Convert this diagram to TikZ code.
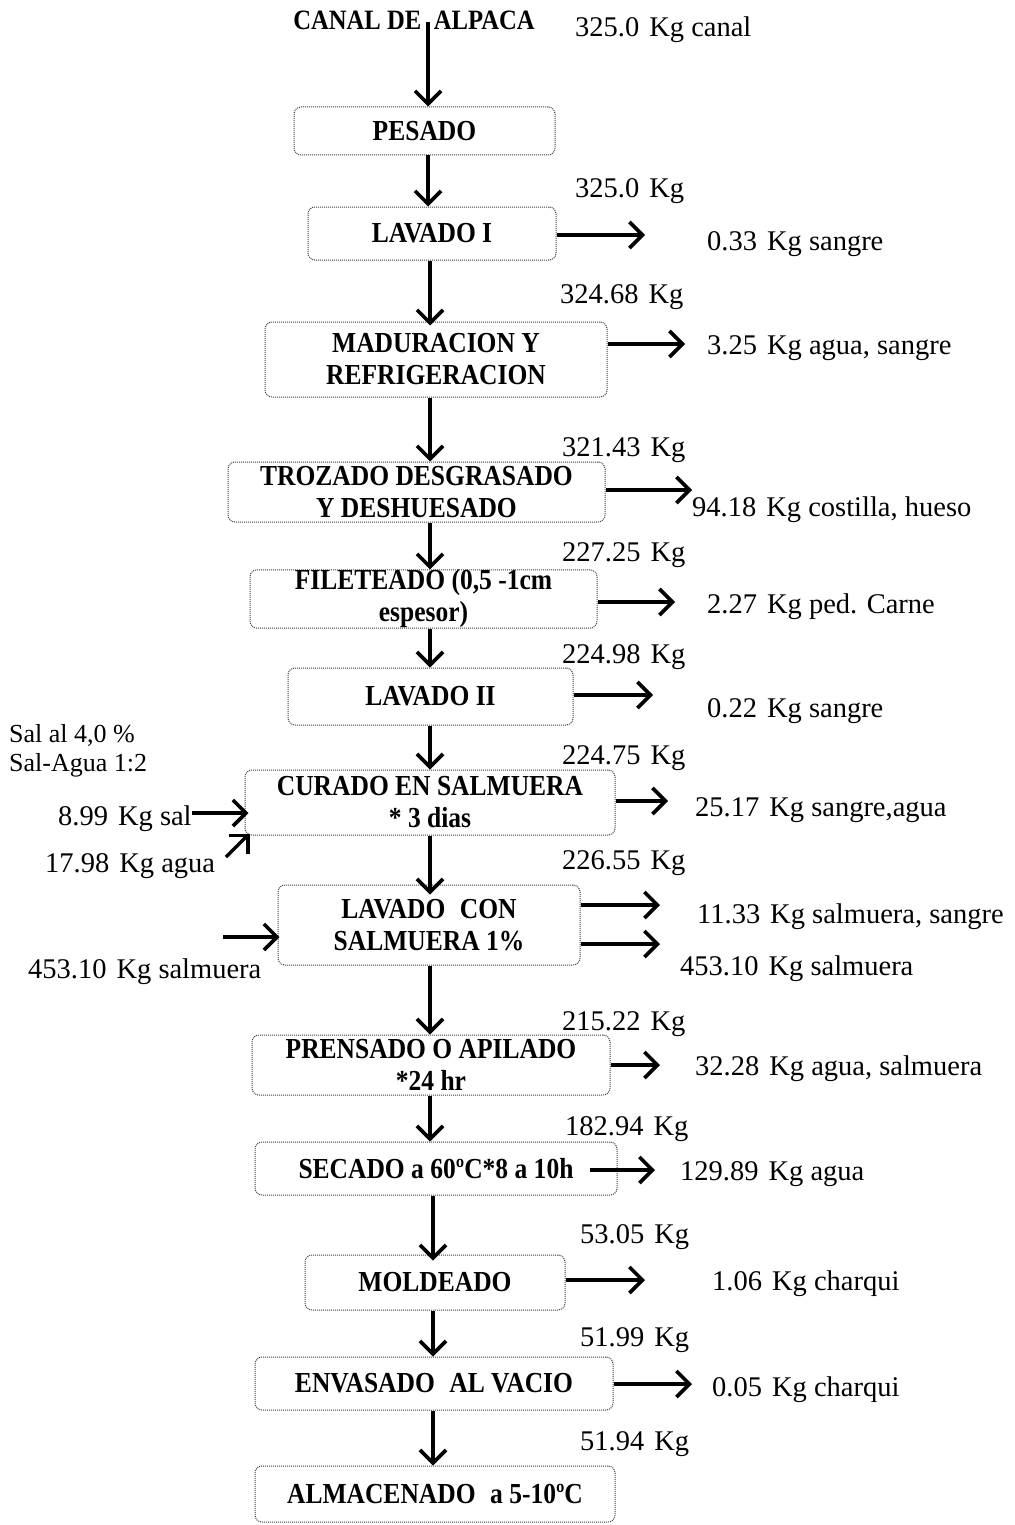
\documentclass[tikz,border=0pt]{standalone}
\usepackage{fontspec}
\setmainfont{Liberation Serif}
\newfontfamily\boxfont{Liberation Serif}[FakeStretch=0.88]
\usetikzlibrary{arrows.meta,calc}
\newcommand\sepkg{\hspace{0.35em}}
\begin{document}
\begin{tikzpicture}[x=1pt,y=-1pt,
  proc/.style={draw=black!75, densely dotted, line width=1pt, rounded corners=7pt,
    inner sep=0pt, align=center, font=\boxfont\fontsize{29}{32}\selectfont\bfseries},
  ttl/.style={inner sep=0pt, font=\boxfont\fontsize{28}{32}\selectfont\bfseries},
  lab/.style={anchor=base west, inner sep=0pt, font=\fontsize{28.5}{30}\selectfont},
  note/.style={anchor=base west, inner sep=0pt, font=\fontsize{26}{30}\selectfont},
  flow/.style={line width=3.4pt, -{Straight Barb[length=13pt,width=26pt,line width=3.6pt]}},
]
\useasboundingbox (0,0) rectangle (1014,1525);
\clip (0,0) rectangle (1014,1525);

% column coordinates
\coordinate (ca) at (428,0);
\coordinate (cb) at (430,0);
\coordinate (cc) at (433,0);

% title
\node[ttl] (canal) at (414,20) {CANAL DE\hspace{0.45em}ALPACA};

% process boxes
\node[proc, minimum width=261pt, minimum height=48pt] (pes) at (424.5,131) {PESADO};
\node[proc, minimum width=248pt, minimum height=53pt] (lav1) at (432,233.5) {LAVADO I};
\node[proc, minimum width=342pt, minimum height=75pt] (mad) at (436,359.5) {MADURACION Y\\REFRIGERACION};
\node[proc, minimum width=377pt, minimum height=60pt] (tro) at (416.5,492) {TROZADO DESGRASADO\\Y DESHUESADO};
\node[proc, minimum width=347pt, minimum height=58pt] (fil) at (423.5,599) {FILETEADO (0,5 -1cm\\espesor)};
\node[proc, minimum width=285pt, minimum height=57pt] (lav2) at (430.5,696.5) {LAVADO II};
\node[proc, minimum width=370pt, minimum height=65pt] (cur) at (430,802.5) {CURADO EN SALMUERA\\* 3 dias};
\node[proc, minimum width=302pt, minimum height=80pt] (lcs) at (429,925) {LAVADO\enspace CON\\SALMUERA 1\%};
\node[proc, minimum width=358pt, minimum height=60pt] (pre) at (431,1065) {PRENSADO O APILADO\\*24 hr};
\node[proc, minimum width=362pt, minimum height=53pt] (sec) at (436,1168.5) {SECADO a 60ºC*8 a 10h};
\node[proc, minimum width=260pt, minimum height=55pt] (mol) at (435,1282.5) {MOLDEADO};
\node[proc, minimum width=358pt, minimum height=53pt] (env) at (434,1383.5) {ENVASADO\enspace AL VACIO};
\node[proc, minimum width=360pt, minimum height=56pt] (alm) at (435,1494) {ALMACENADO\enspace a 5-10ºC};

% mass labels on the main line
\node[lab] (m0) at (575,37) {325.0\sepkg Kg canal};
\node[lab] (m1) at (575,197) {325.0\sepkg Kg};
\node[lab] (m2) at (560,303) {324.68\sepkg Kg};
\node[lab] (m3) at (562,456) {321.43\sepkg Kg};
\node[lab] (m4) at (562,561) {227.25\sepkg Kg};
\node[lab] (m5) at (562,663) {224.98\sepkg Kg};
\node[lab] (m6) at (562,764) {224.75\sepkg Kg};
\node[lab] (m7) at (562,869) {226.55\sepkg Kg};
\node[lab] (m8) at (562,1030) {215.22\sepkg Kg};
\node[lab] (m9) at (565,1135) {182.94\sepkg Kg};
\node[lab] (m10) at (580,1243) {53.05\sepkg Kg};
\node[lab] (m11) at (580,1346) {51.99\sepkg Kg};
\node[lab] (m12) at (580,1450) {51.94\sepkg Kg};

% output labels
\node[lab] (o1) at (707,250) {0.33\sepkg Kg sangre};
\node[lab] (o2) at (707,354) {3.25\sepkg Kg agua, sangre};
\node[lab] (o3) at (692,516) {94.18\sepkg Kg costilla, hueso};
\node[lab] (o4) at (707,613) {2.27\sepkg Kg ped. Carne};
\node[lab] (o5) at (707,717) {0.22\sepkg Kg sangre};
\node[lab] (o6) at (695,816) {25.17\sepkg Kg sangre,agua};
\node[lab] (o7) at (697,923) {11.33\sepkg Kg salmuera, sangre};
\node[lab] (o8) at (680,975) {453.10\sepkg Kg salmuera};
\node[lab] (o9) at (695,1075) {32.28\sepkg Kg agua, salmuera};
\node[lab] (o10) at (680,1180) {129.89\sepkg Kg agua};
\node[lab] (o11) at (712,1290) {1.06\sepkg Kg charqui};
\node[lab] (o12) at (712,1396) {0.05\sepkg Kg charqui};

% input labels
\node[note] (n1) at (9,742) {Sal al 4,0 \%};
\node[note] (n2) at (9,771) {Sal-Agua 1:2};
\node[lab] (sal) at (58,825) {8.99\sepkg Kg sal};
\node[lab] (agua) at (45,872) {17.98\sepkg Kg agua};
\node[lab] (slm) at (28,978) {453.10\sepkg Kg salmuera};

% main flow
\draw[flow] ([yshift=8pt]canal.south -| ca) -- (pes.north -| ca);
\draw[flow] (pes.south -| ca) -- (lav1.north -| ca);
\draw[flow] (lav1.south -| cb) -- ([yshift=-4pt]mad.north -| cb);
\draw[flow] (mad.south -| cb) -- (tro.north -| cb);
\draw[flow] (tro.south -| cb) -- (fil.north -| cb);
\draw[flow] (fil.south -| cb) -- (lav2.north -| cb);
\draw[flow] (lav2.south -| cb) -- (cur.north -| cb);
\draw[flow] (cur.south -| cb) -- ([yshift=-10pt]lcs.north -| cb);
\draw[flow] (lcs.south -| cb) -- (pre.north -| cb);
\draw[flow] (pre.south -| cb) -- (sec.north -| cb);
\draw[flow] (sec.south -| cc) -- ([yshift=-6pt]mol.north -| cc);
\draw[flow] (mol.south -| cc) -- (env.north -| cc);
\draw[flow] (env.south -| cc) -- (alm.north -| cc);

% outputs
\coordinate (e1) at (645,235);
\coordinate (e2) at (685,344);
\coordinate (e3) at (692,490);
\coordinate (e4) at (675,602);
\coordinate (e5) at (653,695);
\coordinate (e6) at (668,801);
\coordinate (e7) at (660,905);
\coordinate (e8) at (660,944);
\coordinate (e9) at (660,1065);
\coordinate (e10) at (655,1170);
\coordinate (e11) at (645,1280);
\coordinate (e12) at (692,1384);
\draw[flow] (lav1.east |- e1) -- (e1);
\draw[flow] (mad.east |- e2) -- (e2);
\draw[flow] (tro.east |- e3) -- (e3);
\draw[flow] (fil.east |- e4) -- (e4);
\draw[flow] (lav2.east |- e5) -- (e5);
\draw[flow] (cur.east |- e6) -- (e6);
\draw[flow] (lcs.east |- e7) -- (e7);
\draw[flow] (lcs.east |- e8) -- (e8);
\draw[flow] (pre.east |- e9) -- (e9);
\draw[flow] ($(sec.east |- e10)+(-28,0)$) -- (e10);
\draw[flow] (mol.east |- e11) -- (e11);
\draw[flow] (env.east |- e12) -- (e12);

% inputs
\coordinate (iy) at (0,813);
\draw[flow] (sal.east |- iy) -- ([xshift=4pt]cur.west |- iy);
\coordinate (ag) at (226,857);
\draw[flow] (ag) -- ([shift={(5,-2)}]cur.south west);
\coordinate (sl) at (223,937);
\draw[flow] (sl) -- ([xshift=2pt]lcs.west |- sl);
\end{tikzpicture}
\end{document}
